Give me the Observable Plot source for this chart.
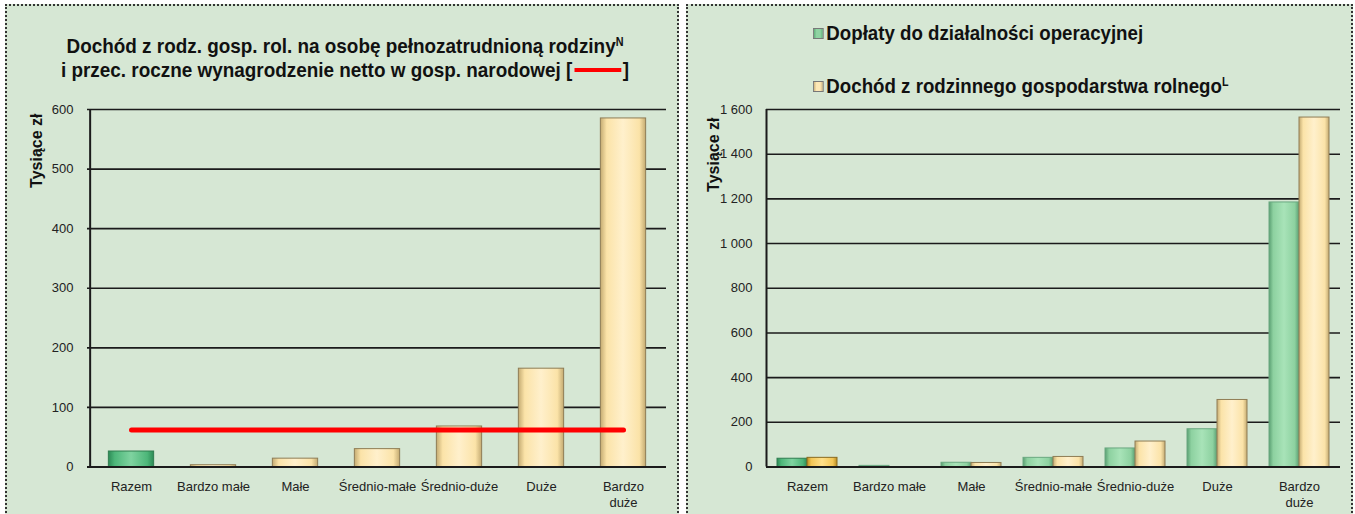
<!DOCTYPE html>
<html>
<head>
<meta charset="utf-8">
<script src="https://cdn.jsdelivr.net/npm/d3@7"></script>
<script src="https://cdn.jsdelivr.net/npm/@observablehq/plot@0.6"></script>
<style>
  html, body { margin: 0; padding: 0; }
  body { width: 1355px; height: 514px; overflow: hidden; background: #ffffff; position: relative;
         font-family: "Liberation Sans", Arial, sans-serif; color: #111; }
  .panel { position: absolute; top: 4px; height: 560px; background: #d6e7d4; border: 2px dotted #333; box-sizing: border-box; }
  #p1 { left: 5px; width: 674px; }
  #p2 { left: 686px; width: 667px; }
  .chart { position: absolute; top: 90px; }
  #c1 { left: 0px; }
  #c2 { left: 680px; }
  .title { position: absolute; left: 0; width: 690px; top: 34px; text-align: center; font-weight: bold; font-size: 21px; line-height: 24px; }
  .title .ln { display: block; white-space: nowrap; transform: scaleX(0.9); transform-origin: 50% 50%; }
  .title sup, .legend sup { font-size: 12px; vertical-align: 7px; line-height: 0; }
  .redkey { display: inline-block; width: 52px; height: 4px; background: #ff0000; vertical-align: middle; margin: 0 2px; position: relative; top: -1px; }
  .legend { position: absolute; left: 813px; font-weight: bold; font-size: 21px; line-height: 24px; white-space: nowrap; transform: scaleX(0.89); transform-origin: 0 50%; }
  .sw { display: inline-block; width: 12px; height: 11px; margin-right: 3px; border: 1px solid #777; box-sizing: border-box; vertical-align: 1px; }
</style>
</head>
<body>
<div class="panel" id="p1"></div>
<div class="panel" id="p2"></div>
<div class="title"><span class="ln">Dochód z rodz. gosp. rol. na osobę pełnozatrudnioną rodziny<sup>N</sup></span><span class="ln">i przec. roczne wynagrodzenie netto w gosp. narodowej [<span class="redkey"></span>]</span></div>
<div class="legend" style="top:21px"><span class="sw" style="background:linear-gradient(90deg,#5fae7a,#8fd3a2 30%,#8fd3a2 70%,#5fae7a)"></span>Dopłaty do działalności operacyjnej</div>
<div class="legend" style="top:74px"><span class="sw" style="background:linear-gradient(90deg,#cdb57f,#fde8b6 30%,#fde8b6 70%,#cdb57f)"></span>Dochód z rodzinnego gospodarstwa rolnego<sup>L</sup></div>
<div class="chart" id="c1"></div>
<div class="chart" id="c2"></div>
<script>
// ---- data ----
const categories = ["Razem", "Bardzo małe", "Małe", "Średnio-małe", "Średnio-duże", "Duże", "Bardzo duże"];
const categoryLabels = ["Razem", "Bardzo małe", "Małe", "Średnio-małe", "Średnio-duże", "Duże", "Bardzo\nduże"];
// left: income per fully employed family member (thousand zł)
const incomePerWorker = [26, 3, 14, 30, 68, 165, 585];
// average annual net wage in national economy (thousand zł)
const netWage = 62;
// right: per farm (thousand zł)
const subsidies = [37, 5, 19, 41, 83, 169, 1184];
const farmIncome = [41, -1, 18, 45, 114, 300, 1564];
const leftTicks = [0, 100, 200, 300, 400, 500, 600];
const rightTicks = [0, 200, 400, 600, 800, 1000, 1200, 1400, 1600];
const rightTickLabels = ["0", "200", "400", "600", "800", "1 000", "1 200", "1 400", "1 600"];
const yLabel = "Tysiące zł";

const FONT = '"Liberation Sans", Arial, sans-serif';
const labelOf = new Map(categories.map((c, i) => [c, categoryLabels[i]]));
const rightLabelOf = new Map(rightTicks.map((t, i) => [t, rightTickLabels[i]]));

const leftData = categories.map((c, i) => ({category: c, value: incomePerWorker[i]}));
const wageData = [{category: categories[0], value: netWage}, {category: categories[categories.length - 1], value: netWage}];
const subsidyData = categories.map((c, i) => ({category: c, value: subsidies[i]}));
const incomeData = categories.map((c, i) => ({category: c, value: farmIncome[i]}));

const W1 = 680, H = 424, ML1 = 87, MR1 = 14, MT = 19, MB = 47.5;
const W2 = 675, ML2 = 86, MR2 = 15;
const bw1 = (W1 - ML1 - MR1) / categories.length;
const bw2 = (W2 - ML2 - MR2) / categories.length;

const style = {background: "transparent", fontFamily: FONT, fontSize: "13px", color: "#222", overflow: "visible"};

const left = Plot.plot({
  width: W1, height: H, marginLeft: ML1, marginRight: MR1, marginTop: MT, marginBottom: MB,
  style,
  x: {domain: categories, padding: 0, label: null},
  y: {domain: [0, 600], label: null},
  marks: [
    Plot.ruleY(leftTicks.slice(1), {stroke: "#1b1b1b", strokeWidth: 1.6}),
    Plot.barY(leftData, {x: "category", y: "value",
      fill: d => d.category === categories[0] ? "url(#gGreenDark)" : "url(#gTan)",
      stroke: d => d.category === categories[0] ? "#2f7d50" : "#8f7d55", strokeWidth: 1,
      insetLeft: (bw1 - 46) / 2, insetRight: (bw1 - 46) / 2}),
    Plot.ruleY([0], {stroke: "#1b1b1b", strokeWidth: 2}),
    Plot.ruleX([categories[0]], {y1: 0, y2: 600, dx: -bw1 / 2, stroke: "#1b1b1b", strokeWidth: 2}),
    Plot.lineY(wageData, {x: "category", y: "value", stroke: "#ff0000", strokeWidth: 5, strokeLinecap: "round"}),
    Plot.axisX({tickSize: 0, tickPadding: 12, tickFormat: d => labelOf.get(d), lineHeight: 1.25, fill: "#222"}),
    Plot.axisY({ticks: leftTicks, tickSize: 0, tickPadding: 14, label: null, fill: "#222"}),
    Plot.text([yLabel], {frameAnchor: "top-left", dx: -57, dy: 4, rotate: -90, textAnchor: "end", fontWeight: "bold", fontSize: 16, fill: "#111"})
  ]
});

const right = Plot.plot({
  width: W2, height: H, marginLeft: ML2, marginRight: MR2, marginTop: MT, marginBottom: MB,
  style,
  x: {domain: categories, padding: 0, label: null},
  y: {domain: [0, 1600], label: null},
  marks: [
    Plot.ruleY(rightTicks.slice(1), {stroke: "#1b1b1b", strokeWidth: 1.6}),
    Plot.barY(subsidyData, {x: "category", y: "value",
      fill: d => d.category === categories[0] ? "url(#gGreenDark)" : "url(#gGreen)",
      stroke: d => d.category === categories[0] ? "#2f7d50" : "#6aa880", strokeWidth: 1,
      insetLeft: bw2 / 2 - 30, insetRight: bw2 / 2}),
    Plot.barY(incomeData, {x: "category", y: "value",
      fill: d => d.category === categories[0] ? "url(#gGold)" : "url(#gTan)",
      stroke: d => d.category === categories[0] ? "#8a6a20" : "#8f7d55", strokeWidth: 1,
      insetLeft: bw2 / 2, insetRight: bw2 / 2 - 30}),
    Plot.ruleY([0], {stroke: "#1b1b1b", strokeWidth: 2}),
    Plot.ruleX([categories[0]], {y1: 0, y2: 1600, dx: -bw2 / 2, stroke: "#1b1b1b", strokeWidth: 2}),
    Plot.axisX({tickSize: 0, tickPadding: 12, tickFormat: d => labelOf.get(d), lineHeight: 1.25, fill: "#222"}),
    Plot.axisY({ticks: rightTicks, tickSize: 0, tickPadding: 14, tickFormat: d => rightLabelOf.get(d), label: null, fill: "#222"}),
    Plot.text([yLabel], {frameAnchor: "top-left", dx: -59, dy: 8, rotate: -90, textAnchor: "end", fontWeight: "bold", fontSize: 16, fill: "#111"})
  ]
});

function addDefs(svg) {
  const defs = d3.select(svg).insert("defs", ":first-child");
  const grads = {
    gTan: ["#c4ab72", "#fbe3a8", "#fff0cc", "#fbe3a8", "#c4ab72"],
    gGreen: ["#5a9f72", "#8dd1a0", "#a8e3b8", "#8dd1a0", "#5a9f72"],
    gGreenDark: ["#2c8a55", "#4db679", "#7fd3a0", "#4db679", "#2c8a55"],
    gGold: ["#b88c22", "#f3c655", "#ffe08a", "#f3c655", "#b88c22"]
  };
  for (const [id, c] of Object.entries(grads)) {
    const g = defs.append("linearGradient").attr("id", id).attr("x1", 0).attr("x2", 1).attr("y1", 0).attr("y2", 0);
    [[0, c[0]], [0.14, c[1]], [0.5, c[2]], [0.86, c[3]], [1, c[4]]].forEach(([o, col]) =>
      g.append("stop").attr("offset", o).attr("stop-color", col));
  }
}
addDefs(left);
addDefs(right);
document.getElementById("c1").appendChild(left);
document.getElementById("c2").appendChild(right);
</script>
</body>
</html>
